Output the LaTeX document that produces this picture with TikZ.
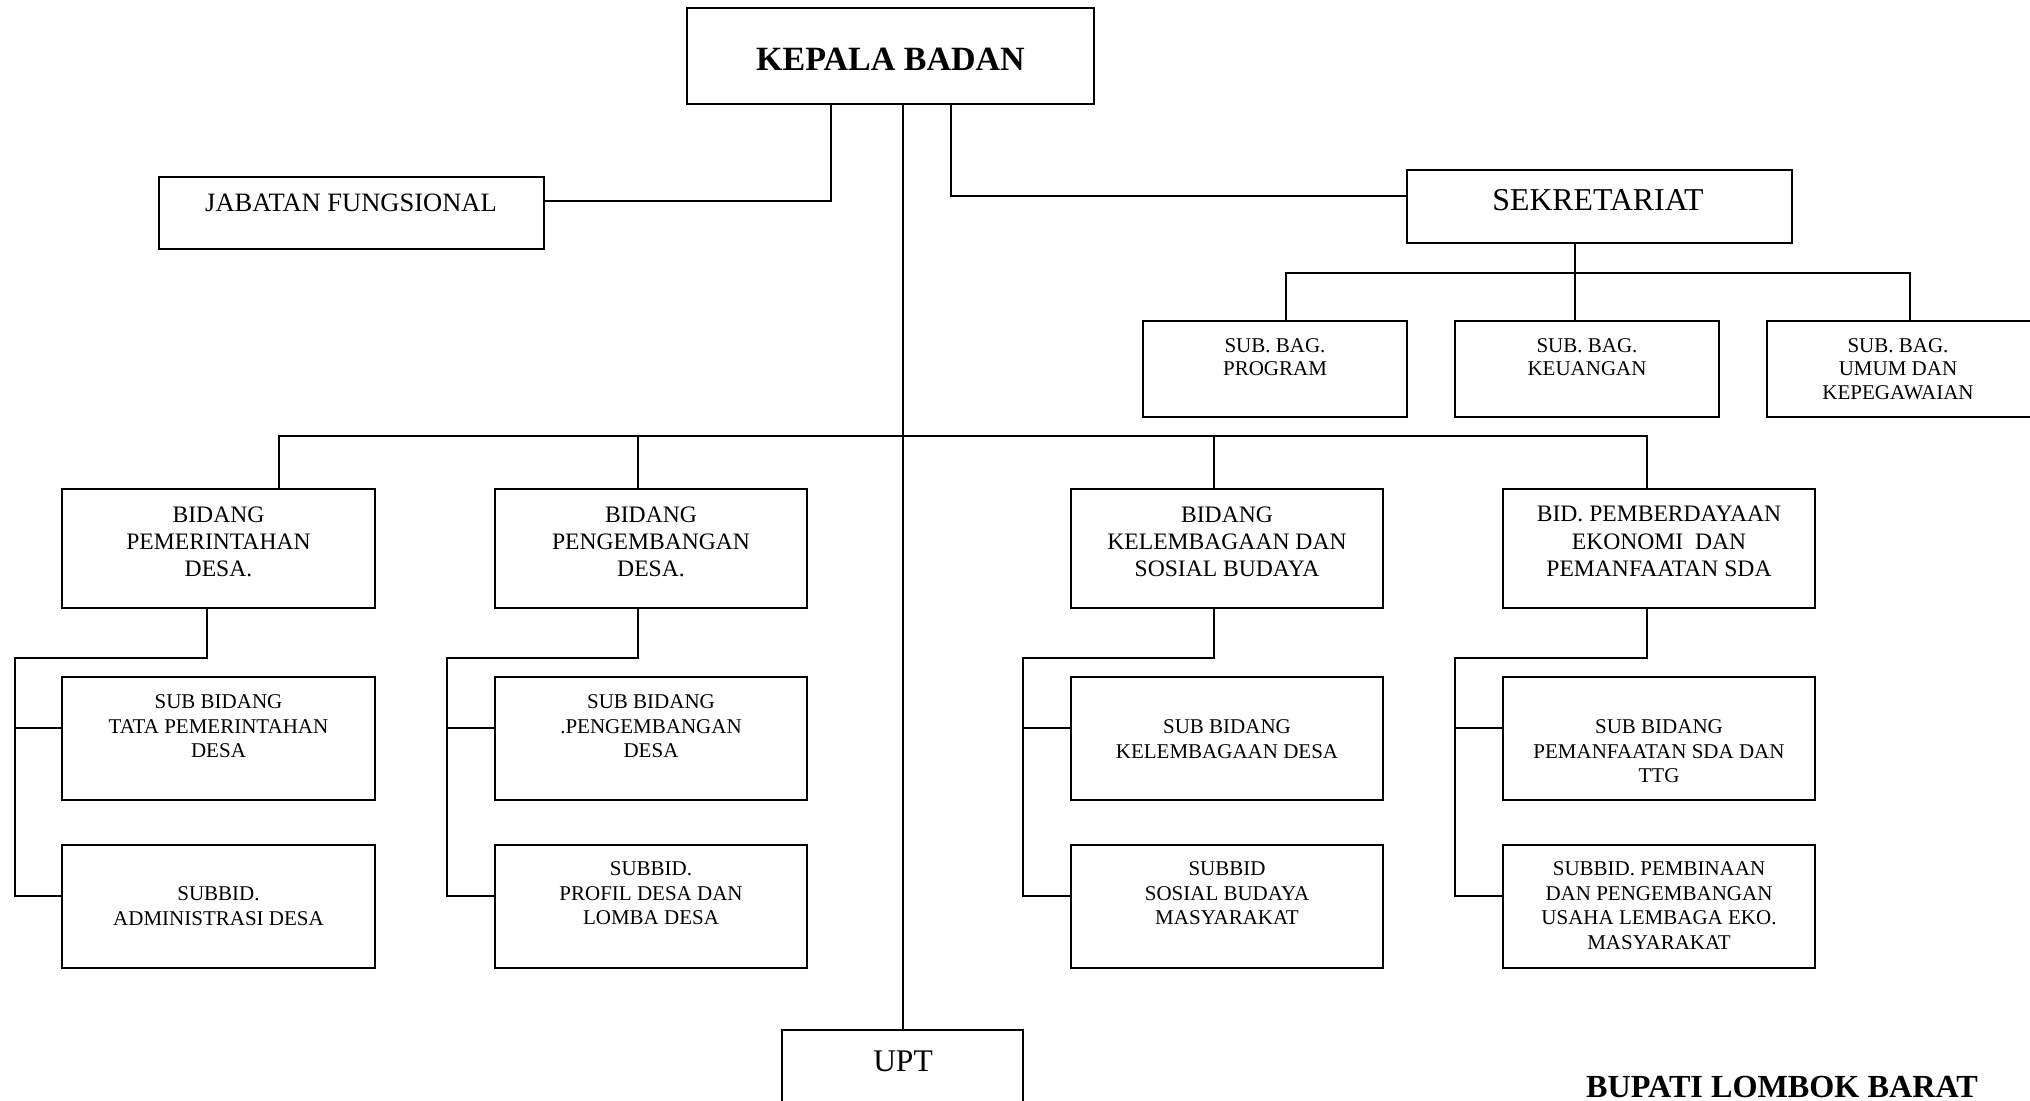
\documentclass[tikz,border=0pt]{standalone}
\usepackage{fontspec}
\setmainfont{Liberation Serif}
\usetikzlibrary{fit}

\begin{document}
\begin{tikzpicture}[x=0.5pt, y=-0.5pt,
    box/.style={draw, line width=1.2pt, inner sep=0pt},
    conn/.style={line width=1pt},
    bidtext/.style={anchor=north, inner sep=0pt, align=center, font=\fontsize{11.8}{13.6}\selectfont},
    subtext/.style={anchor=north, inner sep=0pt, align=center, font=\fontsize{10.5}{12.4}\selectfont},
    bagtext/.style={anchor=north, inner sep=0pt, align=center, font=\fontsize{10.5}{11.75}\selectfont}]
    \useasboundingbox (0,0) rectangle (2030,1101);
    \clip (0,0) rectangle (2030,1101);

    \node[box, fit={(687,8) (1094,104)}] (kb) {};
    \node[anchor=base, inner sep=0pt, font=\fontsize{17}{20}\selectfont\bfseries] (kbt) at (890.5,70.5) {KEPALA BADAN};
    \node[box, fit={(159,177) (544,249)}] (jf) {};
    \node[anchor=base, inner sep=0pt, font=\fontsize{13.25}{16}\selectfont] (jft) at (351,212) {JABATAN FUNGSIONAL};
    \node[box, fit={(1407,170) (1792,243)}] (sek) {};
    \node[anchor=base, inner sep=0pt, font=\fontsize{15.9}{19}\selectfont] (sekt) at (1598,211) {SEKRETARIAT};

    \node[box, fit={(1143,321) (1407,417)}] (sb1) {};
    \node[bagtext] (sb1t) at (1275,338) {SUB. BAG.\\PROGRAM};
    \node[box, fit={(1455,321) (1719,417)}] (sb2) {};
    \node[bagtext] (sb2t) at (1587,338) {SUB. BAG.\\KEUANGAN};
    \node[box, fit={(1767,321) (2031,417)}] (sb3) {};
    \node[bagtext] (sb3t) at (1898,338) {SUB. BAG.\\UMUM DAN\\KEPEGAWAIAN};

    \node[box, fit={(62,489) (375,608)}] (bidA) {};
    \node[bidtext] (bidAt) at (218.5,506) {BIDANG\\PEMERINTAHAN\\DESA.};
    \node[box, fit={(495,489) (807,608)}] (bidB) {};
    \node[bidtext] (bidBt) at (651,506) {BIDANG\\PENGEMBANGAN\\DESA.};
    \node[box, fit={(1071,489) (1383,608)}] (bidC) {};
    \node[bidtext] (bidCt) at (1227,506) {BIDANG\\KELEMBAGAAN DAN\\SOSIAL BUDAYA};
    \node[box, fit={(1503,489) (1815,608)}] (bidD) {};
    \node[bidtext] (bidDt) at (1659,506) {BID. PEMBERDAYAAN\\EKONOMI\ \ DAN\\PEMANFAATAN SDA};

    \node[box, fit={(62,677) (375,800)}] (subA1) {};
    \node[subtext] (subA1t) at (218.5,694) {SUB BIDANG\\TATA PEMERINTAHAN\\DESA};
    \node[box, fit={(62,845) (375,968)}] (subA2) {};
    \node[subtext] (subA2t) at (218.5,886) {SUBBID.\\ADMINISTRASI DESA};
    \node[box, fit={(495,677) (807,800)}] (subB1) {};
    \node[subtext] (subB1t) at (651,694) {SUB BIDANG\\.PENGEMBANGAN\\DESA};
    \node[box, fit={(495,845) (807,968)}] (subB2) {};
    \node[subtext] (subB2t) at (651,861) {SUBBID.\\PROFIL DESA DAN\\LOMBA DESA};
    \node[box, fit={(1071,677) (1383,800)}] (subC1) {};
    \node[subtext] (subC1t) at (1227,719) {SUB BIDANG\\KELEMBAGAAN DESA};
    \node[box, fit={(1071,845) (1383,968)}] (subC2) {};
    \node[subtext] (subC2t) at (1227,861) {SUBBID\\SOSIAL BUDAYA\\MASYARAKAT};
    \node[box, fit={(1503,677) (1815,800)}] (subD1) {};
    \node[subtext] (subD1t) at (1659,719) {SUB BIDANG\\PEMANFAATAN SDA DAN\\TTG};
    \node[box, fit={(1503,845) (1815,968)}] (subD2) {};
    \node[subtext] (subD2t) at (1659,861) {SUBBID. PEMBINAAN\\DAN PENGEMBANGAN\\USAHA LEMBAGA EKO.\\MASYARAKAT};

    \node[box, fit={(782,1030) (1023,1120)}] (upt) {};
    \node[anchor=base, inner sep=0pt, font=\fontsize{15.75}{19}\selectfont] (uptt) at (903,1071) {UPT};
    \node[anchor=base, inner sep=0pt, font=\fontsize{16.1}{19}\selectfont\bfseries] (bupati) at (1782,1097) {BUPATI LOMBOK BARAT};

    \draw[conn] (kb.south -| 831,0) |- (jf.east |- 0,201);
    \draw[conn] (kb.south -| 951,0) |- (sek.west |- 0,196);
    \draw[conn] (kb.south -| upt.north) -- (upt.north);
    \coordinate (sekbus) at (1575,273);
    \draw[conn] (sek.south -| sekbus) -- (sb2.north -| sekbus);
    \draw[conn] (sb1.north -| 1286,0) |- (sekbus) -| (sb3.north -| 1910,0);
    \coordinate (bus) at (903,436);
    \draw[conn] (bidA.north -| 279,0) |- (bus) -| (bidD.north -| 1647,0);
    \draw[conn] (bus -| 638,0) -- (bidB.north -| 638,0);
    \draw[conn] (bus -| 1214,0) -- (bidC.north -| 1214,0);

    \draw[conn] (bidA.south -| 207,0) |- (15,658) |- (subA2.west |- 0,896);
    \draw[conn] (subA1.west |- 0,728) -- (15,728);
    \draw[conn] (bidB.south -| 638,0) |- (447,658) |- (subB2.west |- 0,896);
    \draw[conn] (subB1.west |- 0,728) -- (447,728);
    \draw[conn] (bidC.south -| 1214,0) |- (1023,658) |- (subC2.west |- 0,896);
    \draw[conn] (subC1.west |- 0,728) -- (1023,728);
    \draw[conn] (bidD.south -| 1647,0) |- (1455,658) |- (subD2.west |- 0,896);
    \draw[conn] (subD1.west |- 0,728) -- (1455,728);
\end{tikzpicture}
\end{document}
